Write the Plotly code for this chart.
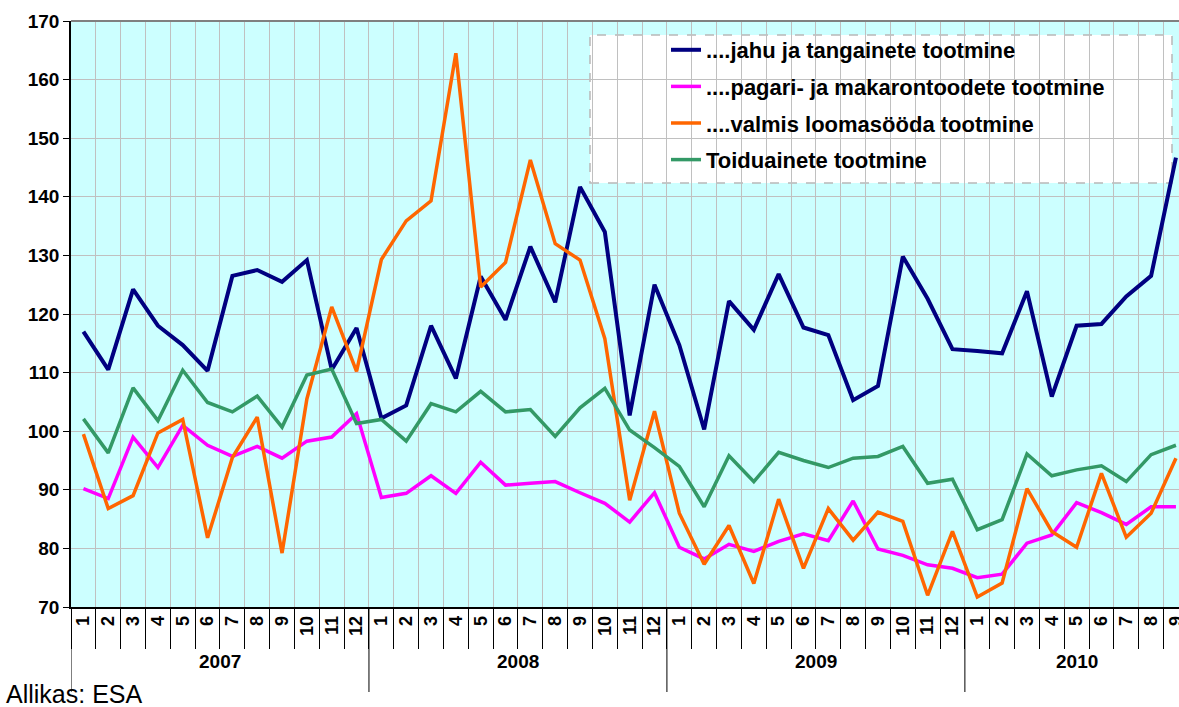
import plotly.graph_objects as go

# ---- data ----
years = ["2007", "2008", "2009", "2010"]
months = [str(m) for m in range(1, 13)] * 3 + [str(m) for m in range(1, 10)]

jahu = [117.0, 110.5, 124.2, 118.0, 114.7, 110.3, 126.5, 127.5, 125.5, 129.2, 110.5, 117.6,
        102.2, 104.4, 118.0, 109.0, 126.4, 119.0, 131.5, 122.0, 141.7, 134.0, 102.7, 125.0,
        114.7, 100.3, 122.2, 117.3, 126.8, 117.7, 116.4, 105.3, 107.7, 129.8, 122.6, 114.0,
        113.7, 113.3, 123.9, 105.9, 118.0, 118.3, 123.0, 126.5, 146.7]
pagari = [90.2, 88.5, 99.0, 93.8, 101.0, 97.6, 95.7, 97.4, 95.4, 98.3, 99.0, 103.0,
          88.7, 89.4, 92.4, 89.4, 94.7, 90.8, 91.1, 91.4, 89.5, 87.7, 84.5, 89.5,
          80.2, 78.2, 80.7, 79.5, 81.2, 82.5, 81.3, 88.1, 79.9, 78.8, 77.2, 76.6,
          75.0, 75.6, 80.9, 82.3, 87.8, 86.1, 84.1, 87.1, 87.1]
loomasoot = [99.5, 86.8, 89.0, 99.7, 102.0, 81.8, 95.5, 102.4, 79.2, 105.5, 121.2, 110.2,
             129.3, 135.9, 139.3, 164.5, 124.6, 128.8, 146.3, 132.0, 129.2, 115.8, 88.2, 103.4,
             86.0, 77.3, 83.9, 74.0, 88.4, 76.6, 86.8, 81.4, 86.2, 84.6, 72.0, 82.9,
             71.7, 74.1, 90.2, 82.9, 80.2, 92.8, 81.9, 86.0, 95.4]
toiduained = [102.1, 96.3, 107.4, 101.8, 110.4, 104.9, 103.3, 106.0, 100.7, 109.6, 110.6, 101.3,
              102.0, 98.3, 104.7, 103.3, 106.8, 103.3, 103.7, 99.1, 104.0, 107.3, 100.2, 97.2,
              94.0, 87.1, 95.8, 91.4, 96.4, 95.0, 93.8, 95.4, 95.7, 97.4, 91.1, 91.8,
              83.2, 84.9, 96.1, 92.4, 93.4, 94.1, 91.4, 96.0, 97.6]

series_names = ["....jahu ja tangainete tootmine",
                "....pagari- ja makarontoodete tootmine",
                "....valmis loomasööda tootmine",
                "Toiduainete tootmine"]
series_colors = ["#000080", "#FF00FF", "#FF6600", "#339966"]
series_widths = [4, 3.5, 3.5, 3.5]
series_values = [jahu, pagari, loomasoot, toiduained]

x = list(range(len(months)))
FONT = "Liberation Sans, Arial, sans-serif"

# plot area geometry (page pixels; body margin removed below)
L, T, PW, PH = 71, 21, 1108, 586
FIG_W, FIG_H = 1179, 707


def px(page_x):
    return (page_x - L) / PW


def py(page_y):
    return 1 - (page_y - T) / PH


fig = go.Figure()
for i, (name, vals, col, w) in enumerate(zip(series_names, series_values, series_colors, series_widths)):
    fig.add_trace(go.Scatter(x=x, y=vals, mode="lines", name=name,
                             line=dict(color=col, width=w), legendgroup=str(i)))

shapes = []
# legend background box (dashed border)
shapes.append(dict(type="rect", xref="paper", yref="paper",
                   x0=px(590), x1=px(1172), y0=py(183), y1=py(35),
                   fillcolor="white", line=dict(color="#B8B8B8", width=1.5, dash="dash"),
                   layer="between"))
# top border of plot area
shapes.append(dict(type="line", xref="paper", yref="paper", x0=0, x1=1, y0=1, y1=1,
                   line=dict(color="#808080", width=2), layer="above"))
# year separators
year_starts = [0, 12, 24, 36]
for s in year_starts:
    shapes.append(dict(type="line", xref="x", yref="paper", x0=s - 0.5, x1=s - 0.5,
                       y0=0, y1=py(692), line=dict(color="black", width=1)))

annotations = []
year_ends = [12, 24, 36, 45]
for yr, s, e in zip(years, year_starts, year_ends):
    annotations.append(dict(text=yr, xref="x", yref="paper", x=(s - 0.5 + e - 0.5) / 2,
                            y=py(674), showarrow=False,
                            font=dict(family=FONT, size=19, color="black", weight="bold")))
annotations.append(dict(text="Allikas: ESA", xref="paper", yref="paper",
                        x=px(4), y=py(694), xanchor="left", yanchor="middle",
                        showarrow=False, font=dict(family=FONT, size=25, color="black")))

fig.update_layout(
    width=FIG_W, height=FIG_H,
    margin=dict(l=L, r=FIG_W - L - PW, t=T, b=FIG_H - T - PH, autoexpand=False),
    paper_bgcolor="white", plot_bgcolor="#CCFFFF",
    font=dict(family=FONT, color="black"),
    showlegend=True,
    legend=dict(x=px(666), y=py(29), xanchor="left", yanchor="top",
                bgcolor="rgba(0,0,0,0)", borderwidth=0, tracegroupgap=5,
                font=dict(family=FONT, size=22, color="black", weight="bold")),
    shapes=shapes, annotations=annotations,
    xaxis=dict(range=[-0.5, -0.5 + PW / 24.83], tickmode="array", tickvals=x, ticktext=months,
               tickangle=-90, ticks="", showgrid=False, zeroline=False,
               ticklabeloverflow="allow", automargin=False,
               showline=True, linecolor="black", linewidth=1.5,
               tickfont=dict(family=FONT, size=18, color="black", weight="bold"),
               minor=dict(tick0=0.5, dtick=1, showgrid=True, gridcolor="rgb(192,192,192)", gridwidth=1,
                          ticks="outside", ticklen=40, tickcolor="black", tickwidth=1)),
    yaxis=dict(range=[70, 170], dtick=10, showgrid=True, gridcolor="rgb(192,192,192)", gridwidth=1,
               zeroline=False, showline=True, linecolor="black", linewidth=1.5,
               ticks="outside", ticklen=6, tickcolor="black", automargin=False,
               tickfont=dict(family=FONT, size=19, color="black", weight="bold")),
)

fig.write_html("out.html", config={"displayModeBar": False},
               post_script="document.body.style.margin='0';document.body.style.overflow='hidden';")
